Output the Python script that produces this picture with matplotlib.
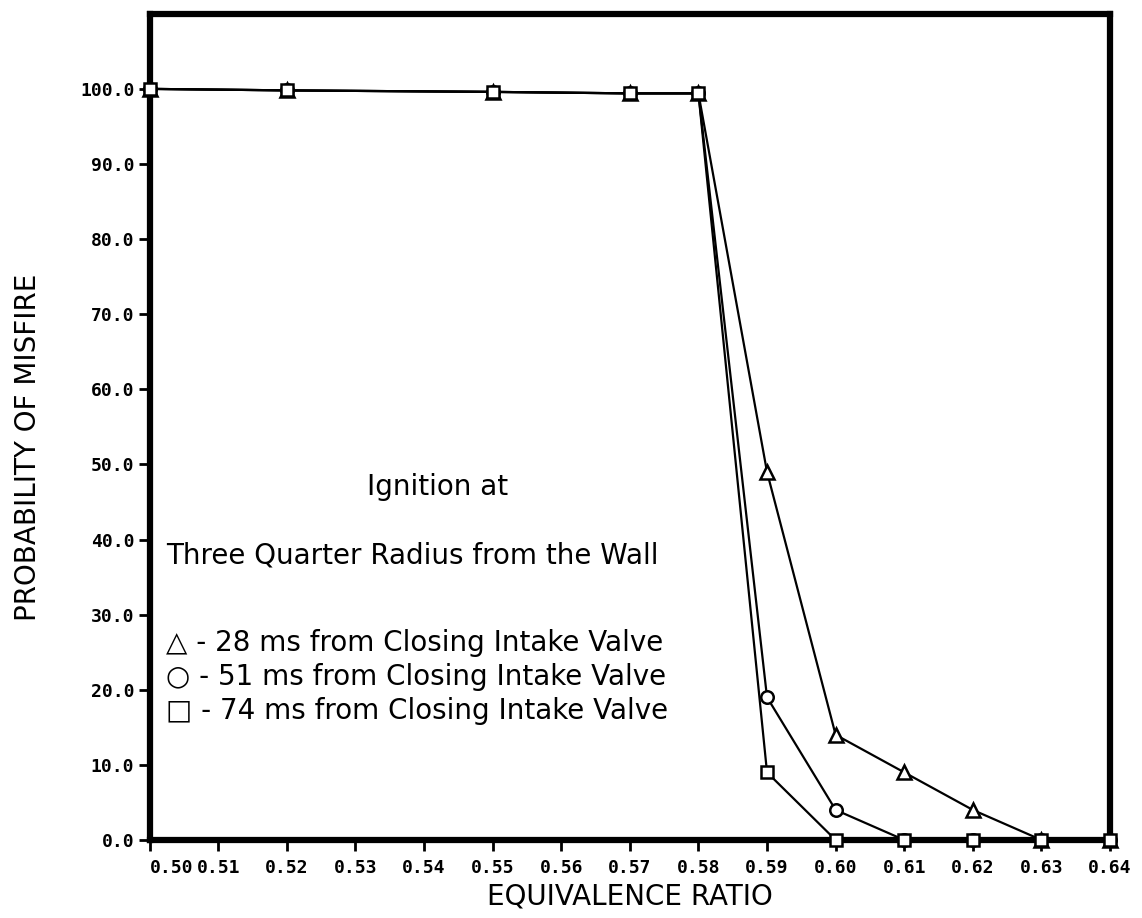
import matplotlib
matplotlib.use("Agg")
import matplotlib.pyplot as plt

# Equivalence ratio (x) and probability of misfire (%) for each ignition timing
phi_28 = [0.50, 0.52, 0.55, 0.57, 0.58, 0.59, 0.60, 0.61, 0.62, 0.63, 0.64]
pm_28 = [100.0, 99.8, 99.6, 99.4, 99.4, 49.0, 14.0, 9.0, 4.0, 0.0, 0.0]

phi_51 = [0.50, 0.52, 0.55, 0.57, 0.58, 0.59, 0.60, 0.61, 0.62, 0.63, 0.64]
pm_51 = [100.0, 99.8, 99.6, 99.4, 99.4, 19.0, 4.0, 0.0, 0.0, 0.0, 0.0]

phi_74 = [0.50, 0.52, 0.55, 0.57, 0.58, 0.59, 0.60, 0.61, 0.62, 0.63, 0.64]
pm_74 = [100.0, 99.8, 99.6, 99.4, 99.4, 9.0, 0.0, 0.0, 0.0, 0.0, 0.0]

x_ticks = [0.50, 0.51, 0.52, 0.53, 0.54, 0.55, 0.56, 0.57, 0.58, 0.59, 0.60,
           0.61, 0.62, 0.63, 0.64]
y_ticks = [0, 10, 20, 30, 40, 50, 60, 70, 80, 90, 100]

legend_lines = [
    "\u25b3 - 28 ms from Closing Intake Valve",
    "\u25cb - 51 ms from Closing Intake Valve",
    "\u25a1 - 74 ms from Closing Intake Valve",
]

fig = plt.figure(figsize=(11.42, 9.18), dpi=100)
ax = fig.add_axes([0.131, 0.085, 0.841, 0.90])

line_kw = dict(color="black", lw=1.6, mfc="white", mec="black", mew=1.8, clip_on=False)
ax.plot(phi_28, pm_28, marker="^", ms=10, zorder=3, **line_kw)
ax.plot(phi_51, pm_51, marker="o", ms=9, zorder=3, **line_kw)
ax.plot(phi_74, pm_74, marker="s", ms=9, zorder=3, **line_kw)

ax.set_xlim(0.50, 0.64)
ax.set_ylim(0, 110)
ax.set_xticks(x_ticks)
ax.set_xticklabels([f"{v:.2f}" for v in x_ticks])
ax.set_yticks(y_ticks)
ax.set_yticklabels([f"{v:.1f}" for v in y_ticks])

for s in ax.spines.values():
    s.set_linewidth(4.5)
    s.set_color("black")

for lab in ax.get_xticklabels() + ax.get_yticklabels():
    lab.set_fontfamily("DejaVu Sans Mono")
    lab.set_fontweight("bold")
    lab.set_fontsize(13)
# first x label starts at its tick, running into the next one
ax.get_xticklabels()[0].set_horizontalalignment("left")
ax.tick_params(axis="both", direction="out", length=8, width=2, color="black")
ax.tick_params(axis="x", pad=6)
ax.tick_params(axis="y", pad=3)

label_font = dict(family="DejaVu Sans", size=20)
ax.set_xlabel("EQUIVALENCE RATIO", labelpad=4, **label_font)
ax.set_ylabel("PROBABILITY OF MISFIRE", **label_font)
ax.yaxis.set_label_coords(-0.112, 0.475)

text_font = dict(family="DejaVu Sans", size=20, color="black")
ax.text(0.30, 0.427, "Ignition at", transform=ax.transAxes, ha="center",
        va="center", **text_font)
ax.text(0.017, 0.344, "Three Quarter Radius from the Wall",
        transform=ax.transAxes, ha="left", va="center", **text_font)
for i, t in enumerate(legend_lines):
    ax.text(0.017, 0.2385 - i * 0.0415, t, transform=ax.transAxes, ha="left",
            va="center", **text_font)

fig.savefig("out.png", dpi=100, facecolor="white")
